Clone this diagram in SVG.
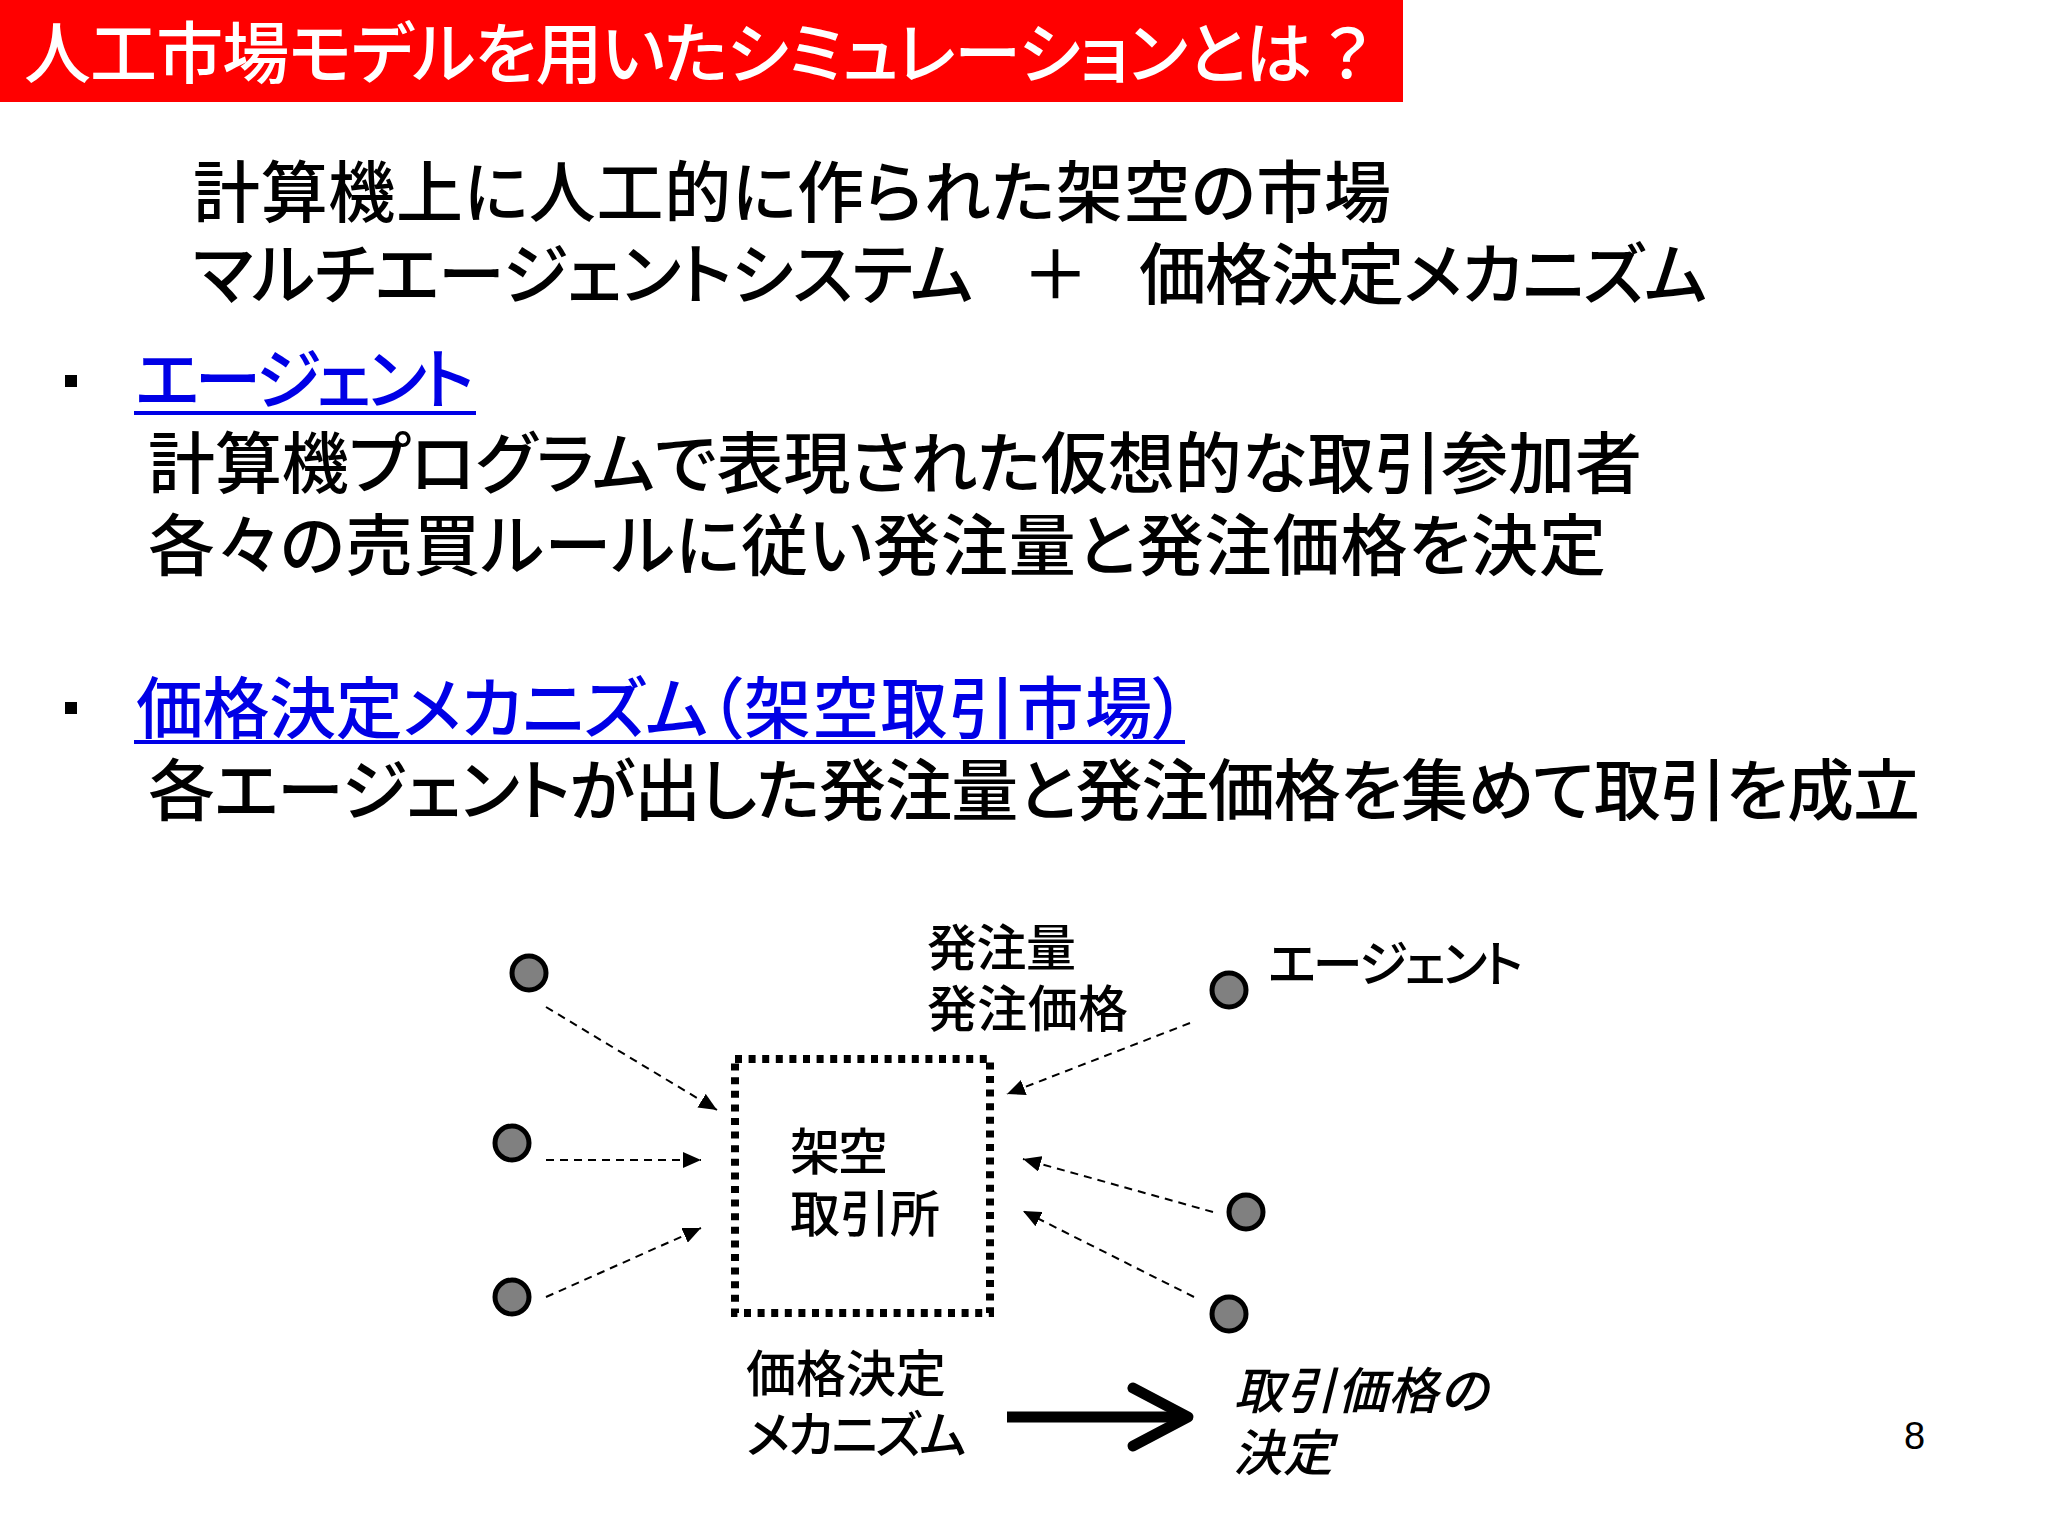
<svg xmlns="http://www.w3.org/2000/svg" width="2048" height="1536" viewBox="0 0 2048 1536">
<style>
text{font-family:"Noto Sans CJK JP","Noto Sans",sans-serif;font-feature-settings:"palt";fill:#000;font-weight:500}
.b{font-size:67px}
.l{font-size:67px;fill:#0000e6}
.d{font-size:50px}
.i{font-size:50px;font-style:italic}
.t{font-size:67px;fill:#fff}
.u{fill:#0000e6}
.a{fill:#808080;stroke:#000;stroke-width:5}
.c{fill:none;stroke:#000;stroke-width:2;stroke-dasharray:8 6;marker-end:url(#h)}
.f{font-feature-settings:normal}
</style>
<defs><marker id="h" markerUnits="userSpaceOnUse" markerWidth="20" markerHeight="16" refX="18" refY="8" orient="auto"><path d="M0 0L18 8L0 16Z" fill="#000"/></marker></defs>
<rect width="2048" height="1536" fill="#fff"/>
<g id="title"><rect width="1403" height="102" fill="#f00"/><text class="t" y="78"><tspan x="24" textLength="1288">人工市場モデルを用いたシミュレーションとは</tspan><tspan class="f" x="1314">？</tspan></text></g>
<g id="intro">
<text class="b" x="193" y="217" textLength="1198">計算機上に人工的に作られた架空の市場</text>
<text class="b" x="193" y="299" textLength="780">マルチエージェントシステム</text>
<text class="b" x="1022" y="299" textLength="66">＋</text>
<text class="b" x="1139" y="299" textLength="568">価格決定メカニズム</text>
</g>
<g id="agent-section">
<rect x="65" y="375" width="12" height="12"/>
<text class="l" x="135" y="404" textLength="339">エージェント</text><rect class="u" x="134" y="411" width="342" height="4"/>
<text class="b" x="148" y="488" textLength="1494">計算機プログラムで表現された仮想的な取引参加者</text>
<text class="b" x="148" y="570" textLength="1458">各々の売買ルールに従い発注量と発注価格を決定</text>
</g>
<g id="mechanism-section">
<rect x="65" y="702" width="12" height="12"/>
<text class="l" y="733"><tspan x="136" textLength="572">価格決定メカニズム</tspan><tspan class="f" x="678">（</tspan><tspan x="744" textLength="408">架空取引市場</tspan><tspan class="f" x="1150">）</tspan></text><rect class="u" x="134" y="740" width="1051" height="4"/>
<text class="b" x="148" y="815" textLength="1772">各エージェントが出した発注量と発注価格を集めて取引を成立</text>
</g>
<g id="connectors">
<line class="c" x1="546" y1="1007" x2="717" y2="1110"/>
<line class="c" x1="546" y1="1160" x2="701" y2="1160"/>
<line class="c" x1="546" y1="1297" x2="701" y2="1228"/>
<line class="c" x1="1190" y1="1023" x2="1007" y2="1094"/>
<line class="c" x1="1213" y1="1212" x2="1023" y2="1159"/>
<line class="c" x1="1194" y1="1297" x2="1023" y2="1211"/>
<path d="M1007 1417H1188" fill="none" stroke="#000" stroke-width="11"/>
<path d="M1133 1388L1188 1417L1133 1446" fill="none" stroke="#000" stroke-width="11" stroke-linecap="round" stroke-linejoin="round"/>
</g>
<g id="agent1"><circle class="a" cx="529" cy="973" r="17"/></g>
<g id="agent2"><circle class="a" cx="512" cy="1143" r="17"/></g>
<g id="agent3"><circle class="a" cx="512" cy="1297" r="17"/></g>
<g id="agent4"><circle class="a" cx="1229" cy="990" r="17"/></g>
<g id="agent5"><circle class="a" cx="1246" cy="1212" r="17"/></g>
<g id="agent6"><circle class="a" cx="1229" cy="1314" r="17"/></g>
<g id="exchange"><rect x="735" y="1059" width="255" height="254" fill="none" stroke="#000" stroke-width="8" stroke-dasharray="7 6.6"/>
<text class="d" x="790" y="1170" textLength="98">架空</text><text class="d" x="790" y="1232" textLength="150">取引所</text></g>
<g id="labels">
<text class="d" x="927" y="966" textLength="149">発注量</text>
<text class="d" x="927" y="1027" textLength="201">発注価格</text>
<text class="d" x="1268" y="982" textLength="255">エージェント</text>
<text class="d" x="746" y="1392" textLength="200">価格決定</text>
<text class="d" x="746" y="1453" textLength="220">メカニズム</text>
<text class="i" x="1234" y="1409" textLength="254">取引価格の</text>
<text class="i" x="1233" y="1471" textLength="100">決定</text>
<text x="1904" y="1449" style="font-family:'Liberation Sans',sans-serif;font-size:38px;font-weight:400">8</text>
</g>
</svg>
